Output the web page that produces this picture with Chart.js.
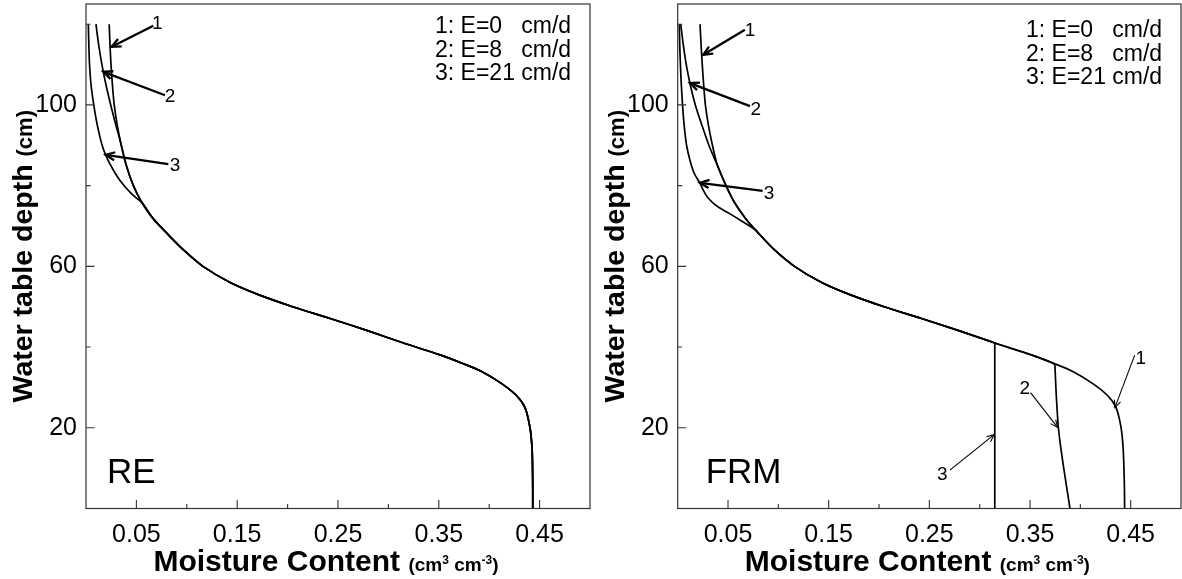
<!DOCTYPE html>
<html>
<head>
<meta charset="utf-8">
<script src="https://cdn.jsdelivr.net/npm/chart.js@4.4.0/dist/chart.umd.min.js"></script>
<style>
  html, body { margin: 0; padding: 0; background: #fff; }
  #wrap { position: relative; width: 1182px; height: 579px; overflow: hidden; }
  .panel { position: absolute; top: 0; height: 579px; }
</style>
</head>
<body>
<div id="wrap">
  <div class="panel" style="left:0;width:600px"><canvas id="re" width="600" height="579"></canvas></div>
  <div class="panel" style="left:592px;width:590px"><canvas id="frm" width="590" height="579"></canvas></div>
</div>
<script>
// ---- axis ticks ----
const depthTicks  = [20, 40, 60, 80, 100, 120];
const depthLabels = ['20', '', '60', '', '100', ''];
const thetaTicks  = [0.05, 0.10, 0.15, 0.20, 0.25, 0.30, 0.35, 0.40, 0.45];
const thetaLabels = ['0.05', '', '0.15', '', '0.25', '', '0.35', '', '0.45'];
const legendLines = ['1: E=0   cm/d', '2: E=8   cm/d', '3: E=21 cm/d'];

// ---- RE profiles (water table depth in cm, moisture content in cm3/cm3) ----
const depthRE1 = [120,115,110,105,100,95,90,85,80,76,72,68,64,60,56,53,50,47,44,41,38,36,34,31,28,25,20,15,10,5,0];
const thetaRE1 = [0.0230,0.0238,0.0248,0.0262,0.0280,0.0310,0.0350,0.0400,0.0470,0.0550,0.0660,0.0810,0.0970,0.1160,0.1430,0.1710,0.2050,0.2430,0.2800,0.3150,0.3520,0.3730,0.3920,0.4120,0.4270,0.4355,0.4405,0.4425,0.4430,0.4432,0.4432];

const depthRE2 = [120,115,110,105,100,95,92,90,85,80,76,72,68,64,60,56,53,50,47,44,41,38,36,34,31,28,25,20,15,10,5,0];
const thetaRE2 = [0.0099,0.0125,0.0158,0.0198,0.0245,0.0296,0.0330,0.0350,0.0400,0.0470,0.0550,0.0660,0.0810,0.0970,0.1160,0.1430,0.1710,0.2050,0.2430,0.2800,0.3150,0.3520,0.3730,0.3920,0.4120,0.4270,0.4355,0.4405,0.4425,0.4430,0.4432,0.4432];

const depthRE3 = [120,115,110,105,100,95,90,87,84,81,78,75.5,72,68,64,60,56,53,50,47,44,41,38,36,34,31,28,25,20,15,10,5,0];
const thetaRE3 = [0.0023,0.0028,0.0035,0.0050,0.0077,0.0112,0.0160,0.0205,0.0268,0.0345,0.0450,0.0565,0.0660,0.0810,0.0970,0.1160,0.1430,0.1710,0.2050,0.2430,0.2800,0.3150,0.3520,0.3730,0.3920,0.4120,0.4270,0.4355,0.4405,0.4425,0.4430,0.4432,0.4432];

// ---- FRM profiles ----
const depthFRM1 = [120,115,110,105,100,95,90,85,80,76,72,68,64,60,56,53,50,47,44,41,38,36,34,31,28,25,20,15,10,5,0];
const thetaFRM1 = [0.0222,0.0232,0.0244,0.0258,0.0275,0.0305,0.0345,0.0395,0.0480,0.0560,0.0670,0.0810,0.0965,0.1160,0.1430,0.1710,0.2050,0.2430,0.2800,0.3150,0.3520,0.3730,0.3920,0.4120,0.4270,0.4355,0.4405,0.4425,0.4433,0.4438,0.4440];

const depthFRM2 = [120,115,110,105,100,95,90,87,85,80,76,72,68,64,60,56,53,50,47,44,41,38,36.2,35.7,35.2,30,25,20,15,10,5,0];
const thetaFRM2 = [0.0030,0.0055,0.0085,0.0125,0.0175,0.0240,0.0310,0.0360,0.0395,0.0480,0.0560,0.0670,0.0810,0.0965,0.1160,0.1430,0.1710,0.2050,0.2430,0.2800,0.3150,0.3520,0.3712,0.3745,0.3748,0.3757,0.3768,0.3782,0.3806,0.3835,0.3866,0.3897];

const depthFRM3 = [120,115,110,105,100,95,90,86,83,80.6,78.5,77,75,73,71,69,68,64,60,56,53,50,47,44,41.4,41,40.6,30,20,10,0];
const thetaFRM3 = [0.0016,0.0020,0.0027,0.0036,0.0048,0.0064,0.0088,0.0125,0.0165,0.0221,0.0262,0.0300,0.0385,0.0520,0.0650,0.0775,0.0810,0.0965,0.1160,0.1430,0.1710,0.2050,0.2430,0.2800,0.3110,0.3150,0.3150,0.3150,0.3150,0.3150,0.3150];

// ---- curve call-outs: [label, tail θ, tail depth, tip θ, tip depth, label θ, label depth, heavy] ----
const notesRE = [
  ['1', 0.0668, 119.6, 0.0255, 114.4, 0.0707, 120.2, true],
  ['2', 0.0784, 102.4, 0.0172, 108.2, 0.0833, 101.9, true],
  ['3', 0.0817, 85.3, 0.0195, 87.6, 0.0883, 84.9, true]
];
const notesFRM = [
  ['1', 0.0668, 118.6, 0.0254, 112.4, 0.0718, 118.4, true],
  ['2', 0.0718, 99.7, 0.0122, 105.4, 0.0775, 98.7, true],
  ['3', 0.0844, 78.7, 0.0221, 80.7, 0.0907, 78.1, true],
  ['1', 0.4540, 38.0, 0.4343, 25.0, 0.4600, 37.0, false],
  ['2', 0.3505, 28.7, 0.3774, 20.1, 0.3449, 29.7, false],
  ['3', 0.2704, 9.5, 0.3144, 18.3, 0.2628, 8.4, false]
];

const FONT = '"Liberation Sans", Arial, Helvetica, sans-serif';

function toPoints(thetas, depths) {
  return thetas.map((t, i) => ({ x: t, y: depths[i] }));
}

function profile(thetas, depths) {
  return {
    data: toPoints(thetas, depths),
    showLine: true,
    borderColor: '#000',
    borderWidth: 1.7,
    pointRadius: 0,
    tension: 0.3,
    fill: false
  };
}

function drawArrow(ctx, x0, y0, x1, y1, head, width) {
  const a = Math.atan2(y1 - y0, x1 - x0);
  ctx.lineWidth = width;
  ctx.lineJoin = 'miter';
  ctx.lineCap = 'butt';
  ctx.beginPath();
  ctx.moveTo(x0, y0);
  ctx.lineTo(x1, y1);
  ctx.stroke();
  ctx.beginPath();
  ctx.moveTo(x1 - head * Math.cos(a - 0.42), y1 - head * Math.sin(a - 0.42));
  ctx.lineTo(x1, y1);
  ctx.lineTo(x1 - head * Math.cos(a + 0.42), y1 - head * Math.sin(a + 0.42));
  ctx.stroke();
}

// frame, inward ticks, axis titles, key text, panel name and call-outs
const decorations = {
  id: 'decorations',
  afterDraw(chart, args, opts) {
    const ctx = chart.ctx;
    const { left, right, top, bottom } = chart.chartArea;
    const xs = chart.scales.x, ys = chart.scales.y;
    ctx.save();
    ctx.strokeStyle = '#333';
    ctx.lineWidth = 1.2;
    ctx.strokeRect(left, top, right - left, bottom - top);

    // inward tick marks
    ctx.lineWidth = 1.1;
    ctx.beginPath();
    thetaTicks.forEach((v, i) => {
      const px = xs.getPixelForValue(v);
      const len = thetaLabels[i] ? 8.5 : 4.5;
      ctx.moveTo(px, bottom);
      ctx.lineTo(px, bottom - len);
    });
    depthTicks.forEach((v, i) => {
      const py = ys.getPixelForValue(v);
      const len = depthLabels[i] ? 8.5 : 4.5;
      ctx.moveTo(left, py);
      ctx.lineTo(left + len, py);
    });
    ctx.stroke();

    ctx.fillStyle = '#000';

    // x title: "Moisture Content (cm3 cm-3)"
    const xMain = 'Moisture Content';
    const fMain = 'bold 30px ' + FONT, fUnit = 'bold 19px ' + FONT, fSup = 'bold 12px ' + FONT;
    const unitParts = [['(cm', fUnit, 0], ['3', fSup, -7], [' cm', fUnit, 0], ['-3', fSup, -7], [')', fUnit, 0]];
    ctx.font = fMain;
    let w = ctx.measureText(xMain + ' ').width;
    let total = w;
    unitParts.forEach(p => { ctx.font = p[1]; total += ctx.measureText(p[0]).width; });
    let x = (left + right) / 2 - 12 - total / 2;
    const yb = 571;
    ctx.textBaseline = 'alphabetic';
    ctx.textAlign = 'left';
    ctx.font = fMain;
    ctx.fillText(xMain, x, yb);
    x += w;
    unitParts.forEach(p => { ctx.font = p[1]; ctx.fillText(p[0], x, yb + p[2]); x += ctx.measureText(p[0]).width; });

    // y title: "Water table depth (cm)"
    const yMain = 'Water table depth ';
    const yUnit = '(cm)';
    const fYMain = 'bold 28.5px ' + FONT, fYUnit = 'bold 22px ' + FONT;
    ctx.font = fYMain;
    const w1 = ctx.measureText(yMain).width;
    ctx.font = fYUnit;
    const w2 = ctx.measureText(yUnit).width;
    ctx.save();
    ctx.translate(left - 54, (top + bottom) / 2);
    ctx.rotate(-Math.PI / 2);
    ctx.font = fYMain;
    ctx.fillText(yMain, -(w1 + w2) / 2, 0);
    ctx.font = fYUnit;
    ctx.fillText(yUnit, -(w1 + w2) / 2 + w1, 0);
    ctx.restore();

    // key text
    ctx.font = '23px ' + FONT;
    ctx.textBaseline = 'middle';
    legendLines.forEach((s, i) => {
      ctx.fillText(s, right - 155, top + opts.keyTop + i * 23.5);
    });

    // panel name
    ctx.font = '35px ' + FONT;
    ctx.textBaseline = 'alphabetic';
    ctx.fillText(opts.name, left + opts.nameDx, bottom - 26);

    // call-outs
    ctx.strokeStyle = '#000';
    opts.notes.forEach(n => {
      const tx = xs.getPixelForValue(n[1]), ty = ys.getPixelForValue(n[2]);
      const hx = xs.getPixelForValue(n[3]), hy = ys.getPixelForValue(n[4]);
      if (n[7]) drawArrow(ctx, tx, ty, hx, hy, 10, 2.3);
      else drawArrow(ctx, tx, ty, hx, hy, 8, 1.1);
      ctx.font = '19px ' + FONT;
      ctx.textAlign = 'center';
      ctx.textBaseline = 'middle';
      ctx.fillText(n[0], xs.getPixelForValue(n[5]), ys.getPixelForValue(n[6]));
      ctx.textAlign = 'left';
    });
    ctx.restore();
  }
};

function makePanel(id, datasets, rightPad, axisWidth, deco) {
  return new Chart(document.getElementById(id), {
    type: 'scatter',
    data: { datasets },
    plugins: [decorations],
    options: {
      responsive: false,
      animation: false,
      events: [],
      layout: { padding: { top: 4, right: rightPad, left: 0, bottom: 0 } },
      plugins: { legend: { display: false }, tooltip: { enabled: false }, decorations: deco },
      scales: {
        x: {
          type: 'linear', min: 0, max: 0.5,
          afterBuildTicks: s => { s.ticks = thetaTicks.map(v => ({ value: v })); },
          afterFit: s => { s.height = 70.5; s.paddingLeft = 0; s.paddingRight = 0; },
          ticks: { callback: (v, i) => thetaLabels[i], autoSkip: false, maxRotation: 0,
                   color: '#000', padding: 12, font: { family: FONT, size: 25 } },
          grid: { display: false, drawTicks: false },
          border: { display: false }
        },
        y: {
          type: 'linear', min: 0, max: 125,
          afterBuildTicks: s => { s.ticks = depthTicks.map(v => ({ value: v })); },
          afterFit: s => { s.width = axisWidth; s.paddingTop = 0; s.paddingBottom = 0; },
          ticks: { callback: (v, i) => depthLabels[i], autoSkip: false,
                   color: '#000', padding: 9, font: { family: FONT, size: 25 } },
          grid: { display: false, drawTicks: false },
          border: { display: false }
        }
      }
    }
  });
}

makePanel('re', [
  profile(thetaRE1, depthRE1),
  profile(thetaRE2, depthRE2),
  profile(thetaRE3, depthRE3)
], 10, 86, { name: 'RE', nameDx: 21, keyTop: 23, notes: notesRE });

makePanel('frm', [
  profile(thetaFRM1, depthFRM1),
  profile(thetaFRM2, depthFRM2),
  profile(thetaFRM3, depthFRM3)
], 1, 85.7, { name: 'FRM', nameDx: 28, keyTop: 27, notes: notesFRM });
</script>
</body>
</html>
